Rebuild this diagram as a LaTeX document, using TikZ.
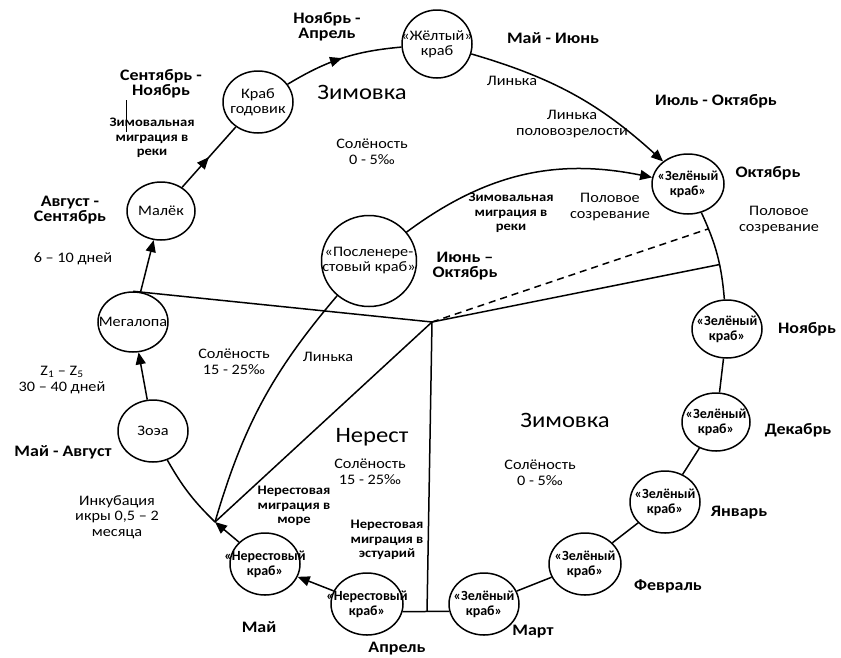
\documentclass[tikz,border=0pt]{standalone}
\usepackage{fontspec}
\setmainfont{Carlito}
\newfontfamily\widefont{Carlito}[FakeStretch=1.12]
\usetikzlibrary{shapes.geometric,arrows.meta,decorations.markings}
\begin{document}
\begin{tikzpicture}[x=1pt,y=-1pt,
  conn/.style={line width=1.5pt},
  tip/.style={-{Triangle[length=12pt,width=10pt]}},
  midarrow/.style={postaction={decorate},decoration={markings,
     mark=at position 0.5 with {\arrow{Triangle[length=12pt,width=10pt]}}}},
  crab/.style={draw,ellipse,line width=1.5pt,inner sep=0pt,minimum width=70pt,minimum height=62pt},
  ctext/.style={font=\fontsize{14.5}{15}\widefont,align=center},
  cbold/.style={font=\fontsize{14}{15}\selectfont\bfseries,align=center},
  month/.style={font=\fontsize{16}{15}\widefont\bfseries,align=center},
  note/.style={font=\fontsize{14.5}{15.5}\widefont,align=center},
  mig/.style={font=\fontsize{13}{14.5}\widefont\bfseries,align=center},
  big/.style={font=\fontsize{22}{24}\widefont}]
\useasboundingbox (0,0) rectangle (841,657);

% circles
\node[crab,label={[ctext]center:Зоэа}] (zoea) at (153,431) {};
\node[crab,minimum height=60pt,label={[ctext]center:Мегалопа}] (mega) at (133,322) {};
\node[crab,minimum width=68pt,minimum height=58pt,label={[ctext]center:Малёк}] (malek) at (161,211) {};
\node[crab,label={[ctext]center:Краб\\годовик}] (godovik) at (258,102) {};
\node[crab,minimum height=68pt,label={[ctext]center:«Жёлтый»\\краб}] (yellow) at (437,44) {};
\node[crab,minimum width=72pt,minimum height=60pt,label={[cbold]center:«Зелёный\\краб»}] (greenOct) at (688,184) {};
\node[crab,minimum width=95pt,minimum height=91pt,label={[ctext]center:«Посленере-\\стовый краб»}] (posle) at (369,261) {};
\node[crab,minimum height=58pt,label={[cbold]center:«Зелёный\\краб»}] (greenNov) at (727,329) {};
\node[crab,minimum width=68pt,minimum height=58pt,label={[cbold]center:«Зелёный\\краб»}] (greenDec) at (716,422) {};
\node[crab,label={[cbold]center:«Зелёный\\краб»}] (greenJan) at (665,502) {};
\node[crab,minimum width=72pt,label={[cbold]center:«Зелёный\\краб»}] (greenFeb) at (585,564) {};
\node[crab,label={[cbold]center:«Зелёный\\краб»}] (greenMar) at (484,604) {};
\node[crab,minimum width=72pt,label={[cbold]center:«Нерестовый\\краб»}] (spawnApr) at (367,604) {};
\node[crab,label={[cbold]center:«Нерестовый\\краб»}] (spawnMay) at (265,564) {};

\coordinate (C) at (432,322);
\coordinate (J) at (215,522);
\coordinate (tickA) at (126,100);
\coordinate (tickB) at (126,132);

% connectors
\draw[conn,tip] (zoea) -- (mega);
\draw[conn,tip] (mega) -- (malek);
\draw[conn,midarrow] (malek) -- (godovik);
\draw[conn,midarrow] (godovik) to[bend left=13] (yellow);
\draw[conn,tip] (yellow) to[bend left=13] (greenOct);
\draw[conn,tip] (posle) to[bend left=24] (greenOct);
\draw[conn] (greenOct) to[bend left=10] coordinate[pos=0.18] (R2) coordinate[pos=0.62] (R1) (greenNov);
\draw[conn] (greenNov) -- (greenDec);
\draw[conn] (greenDec) -- (greenJan);
\draw[conn] (greenJan) -- (greenFeb);
\draw[conn] (greenFeb) -- (greenMar);
\draw[conn] (spawnApr.-12) -- coordinate[pos=0.523] (B) (greenMar.192);
\draw[conn,tip] (spawnApr) -- (spawnMay);
\draw[conn,tip] (spawnMay) -- (J);
\draw[conn] (zoea) to[bend right=8] (J);
\draw[conn] (J) to[bend left=12] (posle);
\draw[conn] (J) -- (C);
\draw[conn] (mega.north) -- (C);
\draw[conn] (C) -- (R1);
\draw[conn,dashed,dash pattern=on 7pt off 5pt] (C) -- (R2);
\draw[conn] (C) -- (B);
\draw[line width=1pt] (tickA) -- (tickB);

% labels
\node[month] (l1) at (327,27) {Ноябрь -\\Апрель};
\node[month] (l2) at (161,84) {Сентябрь -\\Ноябрь};
\node[mig] (l3) at (152,138) {Зимовальная\\миграция в\\реки};
\node[big] (l4) at (362,92) {Зимовка};
\node[note] (l5) at (372,152) {Солёность\\0 - 5‰};
\node[month] (l6) at (70,210) {Август -\\Сентябрь};
\node[note] (l7) at (73,259) {6 – 10 дней};
\node[note] (l8) at (62,380) {Z\textsubscript{1} – Z\textsubscript{5}\\30 – 40 дней};
\node[month] (l9) at (63,452) {Май - Август};
\node[note] (l10) at (117,517) {Инкубация\\икры 0,5 – 2\\месяца};
\node[month] (l11) at (259,627) {Май};
\node[month] (l12) at (397,649) {Апрель};
\node[month] (l13) at (533,632) {Март};
\node[month] (l14) at (668,586) {Февраль};
\node[month] (l15) at (739,513) {Январь};
\node[month] (l16) at (798,430) {Декабрь};
\node[month] (l17) at (807,329) {Ноябрь};
\node[note] (l18) at (779,220) {Половое\\созревание};
\node[month] (l19) at (768,173) {Октябрь};
\node[month] (l20) at (716,101) {Июль - Октябрь};
\node[month] (l21) at (553,38) {Май - Июнь};
\node[note] (l22) at (512,81) {Линька};
\node[note] (l23) at (572,124) {Линька\\половозрелости};
\node[mig] (l24) at (511,213) {Зимовальная\\миграция в\\реки};
\node[note] (l25) at (610,207) {Половое\\созревание};
\node[month] (l26) at (465,266) {Июнь –\\Октябрь};
\node[note] (l27) at (234,362) {Солёность\\15 - 25‰};
\node[note] (l28) at (328,357) {Линька};
\node[big] (l29) at (372,437) {Нерест};
\node[note] (l30) at (370,472) {Солёность\\15 - 25‰};
\node[mig] (l31) at (294,506) {Нерестовая\\миграция в\\море};
\node[mig] (l32) at (387,540) {Нерестовая\\миграция в\\эстуарий};
\node[big] (l33) at (565,420) {Зимовка};
\node[note] (l34) at (540,473) {Солёность\\0 - 5‰};
\end{tikzpicture}
\end{document}
